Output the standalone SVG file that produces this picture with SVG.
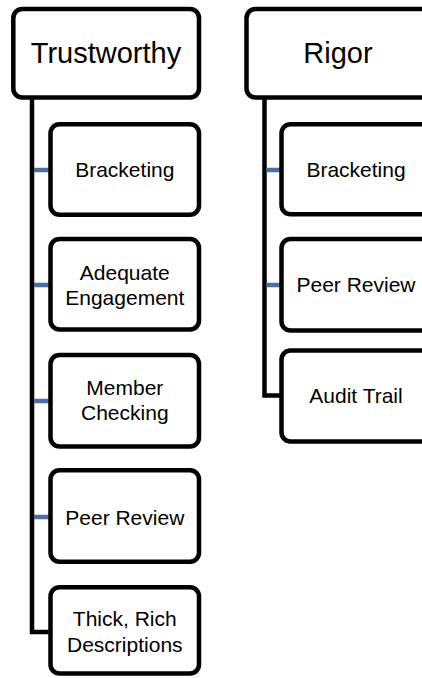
<svg xmlns="http://www.w3.org/2000/svg" width="422" height="678" viewBox="0 0 422 678">
<style>
.box{fill:#fff;stroke:#000;stroke-width:4.5}
.t{font-family:"Liberation Sans",Arial,sans-serif;font-size:21px;fill:#000;text-anchor:middle}
.h{font-size:29px}
.trunk{fill:none;stroke:#000;stroke-width:4.5}
.stub{stroke:#4A6FA5;stroke-width:4.5}
</style>
<rect width="422" height="678" fill="#fff"/>
<g id="connectors">
<path class="trunk" d="M32 97.5 V632 H50.5"/>
<line class="stub" x1="34" y1="170" x2="49" y2="170"/>
<line class="stub" x1="34" y1="285" x2="49" y2="285"/>
<line class="stub" x1="34" y1="401" x2="49" y2="401"/>
<line class="stub" x1="34" y1="517" x2="49" y2="517"/>
<path class="trunk" d="M264.5 97.5 V395.5 H281.5"/>
<line class="stub" x1="266.5" y1="170" x2="281" y2="170"/>
<line class="stub" x1="266.5" y1="285" x2="281" y2="285"/>
</g>
<g id="trustworthy">
<rect class="box" x="13.3" y="9" width="185.7" height="88.5" rx="9"/>
<text class="t h" x="106" y="63">Trustworthy</text>
</g>
<g id="t-bracketing">
<rect class="box" x="50.5" y="124.3" width="148.5" height="90.5" rx="9"/>
<text class="t" x="124.8" y="176.5">Bracketing</text>
</g>
<g id="t-adequate">
<rect class="box" x="50.5" y="239" width="148.5" height="90.5" rx="9"/>
<text class="t" x="124.8" y="279.5">Adequate</text>
<text class="t" x="124.8" y="304.5">Engagement</text>
</g>
<g id="t-member">
<rect class="box" x="50.5" y="355" width="148.5" height="91.5" rx="9"/>
<text class="t" x="124.8" y="394.5">Member</text>
<text class="t" x="124.8" y="420">Checking</text>
</g>
<g id="t-peer">
<rect class="box" x="50.5" y="470.3" width="148.5" height="91.5" rx="9"/>
<text class="t" x="124.8" y="524.5">Peer Review</text>
</g>
<g id="t-thick">
<rect class="box" x="50.5" y="587.3" width="148.5" height="86.2" rx="9"/>
<text class="t" x="124.8" y="626">Thick, Rich</text>
<text class="t" x="124.8" y="652">Descriptions</text>
</g>
<g id="rigor">
<rect class="box" x="246.5" y="9" width="185.7" height="88.5" rx="9"/>
<text class="t h" x="338" y="63">Rigor</text>
</g>
<g id="r-bracketing">
<rect class="box" x="281.5" y="124.3" width="148.5" height="90" rx="9"/>
<text class="t" x="356" y="176.5">Bracketing</text>
</g>
<g id="r-peer">
<rect class="box" x="281.5" y="239" width="148.5" height="91.5" rx="9"/>
<text class="t" x="356" y="292">Peer Review</text>
</g>
<g id="r-audit">
<rect class="box" x="281.5" y="350.5" width="148.5" height="91" rx="9"/>
<text class="t" x="356" y="403">Audit Trail</text>
</g>
</svg>
